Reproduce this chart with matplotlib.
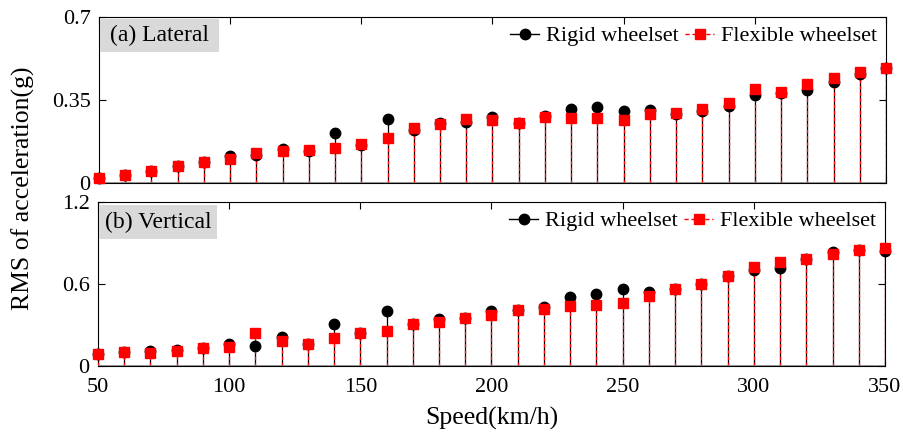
import matplotlib.pyplot as plt
from matplotlib.lines import Line2D
from matplotlib.patches import Rectangle

plt.rcParams['font.family'] = ['Liberation Serif', 'DejaVu Serif']

speed = list(range(50, 360, 10))

lat_rigid = [0.022, 0.034, 0.049, 0.073, 0.090, 0.115, 0.118, 0.142, 0.135, 0.210,
             0.159, 0.270, 0.225, 0.252, 0.259, 0.280, 0.252, 0.281, 0.311, 0.322,
             0.302, 0.308, 0.291, 0.305, 0.325, 0.373, 0.378, 0.392, 0.425, 0.460, 0.484]
lat_flex = [0.022, 0.034, 0.049, 0.073, 0.090, 0.103, 0.125, 0.136, 0.139, 0.148,
            0.165, 0.191, 0.233, 0.249, 0.269, 0.265, 0.255, 0.277, 0.274, 0.275,
            0.264, 0.292, 0.297, 0.314, 0.339, 0.398, 0.384, 0.416, 0.443, 0.468, 0.484]

ver_rigid = [0.085, 0.100, 0.107, 0.115, 0.134, 0.159, 0.146, 0.212, 0.161, 0.310,
             0.244, 0.400, 0.310, 0.341, 0.351, 0.406, 0.410, 0.432, 0.502, 0.529,
             0.566, 0.539, 0.561, 0.602, 0.661, 0.702, 0.719, 0.780, 0.832, 0.849, 0.844]
ver_flex = [0.085, 0.100, 0.098, 0.111, 0.134, 0.141, 0.241, 0.183, 0.161, 0.207,
            0.241, 0.258, 0.307, 0.320, 0.351, 0.375, 0.410, 0.415, 0.441, 0.449,
            0.461, 0.510, 0.561, 0.602, 0.661, 0.724, 0.759, 0.780, 0.822, 0.849, 0.861]

panels = [('(a) Lateral', lat_rigid, lat_flex, [0, 0.35, 0.7], ['0', '0.35', '0.7']),
          ('(b) Vertical', ver_rigid, ver_flex, [0, 0.6, 1.2], ['0', '0.6', '1.2'])]

W, H = 904, 432
fig = plt.figure(figsize=(W / 100, H / 100), dpi=100)
boxes = [[99, 17, 886, 183], [98, 202, 885, 366]]
# label boxes in pixels: x0, y0, x1, y1
tboxes = [[100, 19, 219, 52], [99, 205, 217, 239]]

fs = 16
for k, (title, rig, flx, yt, ytl) in enumerate(panels):
    x0, y0, x1, y1 = boxes[k]
    aw, ah = x1 - x0, y1 - y0
    ax = fig.add_axes([x0 / W, 1 - y1 / H, aw / W, ah / H])
    ymax = yt[-1]
    # stems
    ax.vlines(speed, 0, rig, colors='black', lw=0.9, zorder=2)
    ax.vlines(speed, 0, flx, colors='red', lw=0.9, linestyles=(0, (3, 2)), zorder=3)
    ax.axhline(0, color='#808080', lw=1.2, zorder=4)
    ax.plot(speed, rig, 'o', color='black', ms=7.5, clip_on=False, zorder=5)
    ax.plot(speed, flx, 's', color='red', ms=6.5, clip_on=False, zorder=6)

    ax.set_xlim(50, 350)
    ax.set_ylim(0, ymax)
    ax.set_xticks([50, 100, 150, 200, 250, 300, 350])
    ax.set_yticks(yt)
    ax.set_yticklabels(ytl)
    ax.tick_params(direction='in', top=True, right=True, length=5, width=0.8,
                   labelsize=fs)
    ax.tick_params(axis='y', pad=6)
    ax.tick_params(axis='x', pad=9)
    if k == 0:
        ax.set_xticklabels([])
    else:
        ax.set_xlabel('Speed(km/h)', fontsize=18.5, va='center')
        ax.xaxis.set_label_coords(0.5, -(418 - y1) / ah)
    for s in ax.spines.values():
        s.set_linewidth(0.8)

    bx0, by0, bx1, by1 = tboxes[k]
    ax.add_patch(Rectangle(((bx0 - x0) / aw, (y1 - by1) / ah),
                           (bx1 - bx0) / aw, (by1 - by0) / ah,
                           transform=ax.transAxes, fc='#d9d9d9', ec='none',
                           zorder=9, clip_on=False))
    ax.text(((bx0 + bx1) / 2 - x0) / aw, (y1 - (by0 + by1) / 2) / ah, title,
            transform=ax.transAxes, fontsize=17, va='center', ha='center',
            zorder=10)

    handles = [Line2D([], [], color='black', marker='o', ms=7.5, lw=1),
               Line2D([], [], color='red', marker='s', ms=6.5, lw=1, ls=(0, (3, 2)))]
    ax.legend(handles, ['Rigid wheelset', 'Flexible wheelset'], loc='upper right',
              ncol=2, frameon=False, fontsize=fs, handlelength=1.3,
              handletextpad=0.3, columnspacing=0.3, borderaxespad=0.2,
              borderpad=0.2)

fig.text(23 / W, 1 - 188 / H, 'RMS of acceleration(g)', rotation=90, fontsize=18.5,
         va='center', ha='center')

fig.savefig('out.png', dpi=100)
